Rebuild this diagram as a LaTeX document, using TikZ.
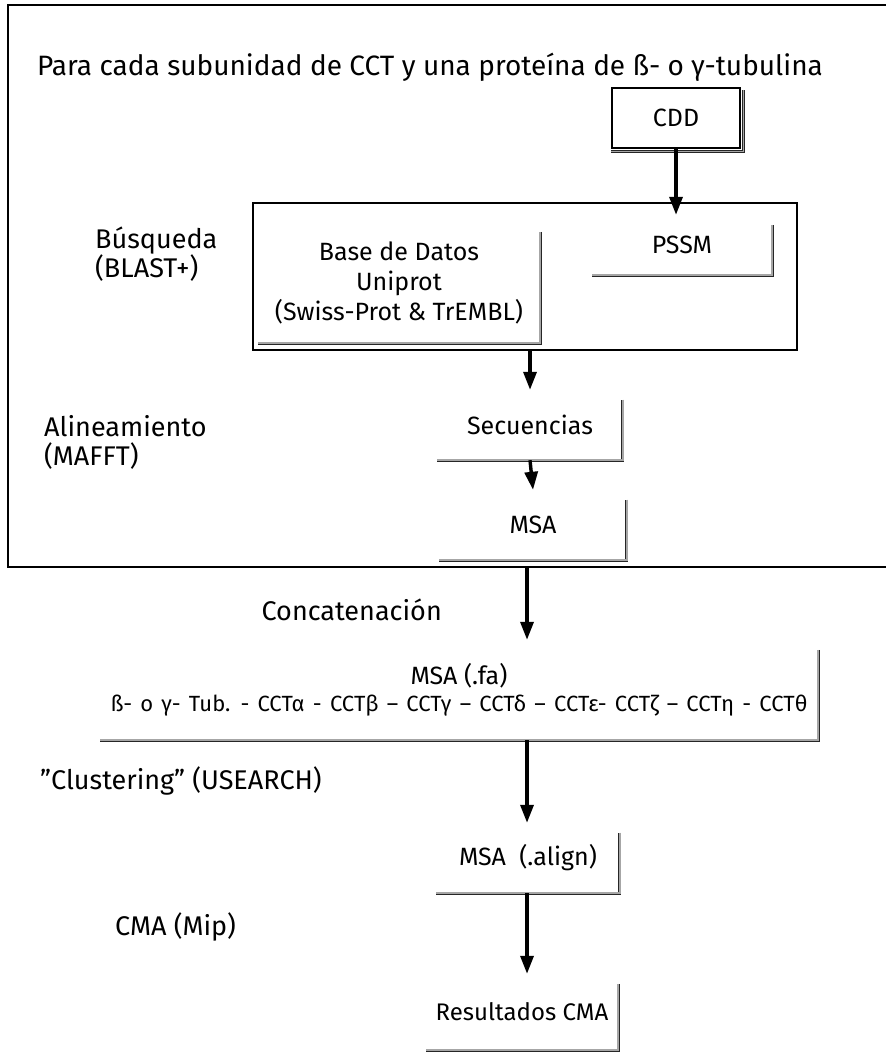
\documentclass[tikz,border=0pt]{standalone}
\usepackage{fontspec}
\setmainfont{Fira Sans}
\usetikzlibrary{arrows.meta,positioning}
\tikzset{caja/.style={draw, line width=1.1pt, minimum width=128pt, minimum height=60pt,
                      font=\fontsize{25}{29}\selectfont},
        hueco/.style={inner sep=0pt, align=center, font=\fontsize{25}{30}\selectfont},
        sombra/.style={draw=black!85, double=black!35, double distance=1.8pt, line width=0.8pt},
        paso/.style={inner sep=0pt, align=left, anchor=west, font=\fontsize{27}{29}\selectfont},
        marco/.style={draw, line width=1.4pt, inner sep=0pt},
        flecha/.style={line width=3.4pt, -{Triangle[length=18pt,width=13pt]}},
        }

\begin{document}
\begin{tikzpicture}[x=1pt,y=-1pt]
    \useasboundingbox (0,0) rectangle (886,1052);

    % marcos
    \draw[marco] (886,5) -- (8,5) -- (8,567) -- (886,567);
    \coordinate (fondo) at (527,567);
    \node[marco, minimum width=544pt, minimum height=147pt] (busq) at (525,276.5) {};

    \node[font=\fontsize{28}{32}\selectfont] (titulo) at (430,67)
        {Para cada subunidad de CCT y una proteína de ß- o γ-tubulina};

    \node[caja] (cdd) at (676,118) {CDD};

    % cajas con sombra
    \node[hueco, minimum width=282pt, minimum height=121pt] (base) at (399,282.5)
        {Base de Datos\\Uniprot\\(Swiss-Prot \& TrEMBL)};
    \node[hueco, minimum width=180pt, minimum height=60pt] (pssm) at (682,245) {PSSM};
    \node[hueco, minimum width=185pt, minimum height=70pt] (secuencias) at (530,425) {Secuencias};
    \node[hueco, minimum width=187pt, minimum height=70pt] (msa) at (533,525) {MSA};
    \node[hueco, minimum width=718pt, minimum height=100pt] (msafa) at (459,690)
        {MSA (.fa)\\[-3pt]{\fontsize{22}{25}\selectfont\spaceskip=8.2pt\relax
         ß- o γ- Tub. - CCTα - CCTβ – CCTγ – CCTδ – CCTε- CCTζ – CCTη - CCTθ}};
    \node[hueco, minimum width=183pt, minimum height=70pt] (align) at (528,858) {MSA~ (.align)};
    \node[hueco, minimum width=192pt, minimum height=76pt, font=\fontsize{24}{28}\selectfont]
        (result) at (522,1012) {Resultados CMA};

    \foreach \n in {base,pssm,secuencias,msa,msafa,align,result}
        \draw[sombra] ([yshift=-10pt]\n.north east) -- (\n.south east) -- (\n.south west);
    \draw[sombra] ([xshift=3pt,yshift=-3pt]cdd.north east) -- ([xshift=3pt,yshift=-3pt]cdd.south east)
        -- ([yshift=-3pt]cdd.south west);

    % etiquetas de los pasos
    \node[paso] (busqueda) at (95,254) {Búsqueda\\(BLAST+)};
    \node[paso] (alinea) at (44,442) {Alineamiento\\(MAFFT)};
    \node[paso, anchor=east] (concat) at (442,610) {Concatenación};
    \node[paso] (cluster) at (40,781) {\symbol{34}Clustering\symbol{34} (USEARCH)};
    \node[paso] (cma) at (115,927) {CMA (Mip)};

    % flechas
    \draw[flecha] (cdd.south) -- (cdd.south |- pssm.north);
    \draw[flecha] (busq.south -| secuencias) -- (secuencias.north);
    \draw[flecha] (secuencias.south) -- (msa.north);
    \draw[flecha] (fondo) -- (fondo |- msafa.north);
    \draw[flecha] (msafa.south -| fondo) -- (align.north -| fondo);
    \draw[flecha] (align.south -| fondo) -- (result.north -| fondo);
\end{tikzpicture}
\end{document}
